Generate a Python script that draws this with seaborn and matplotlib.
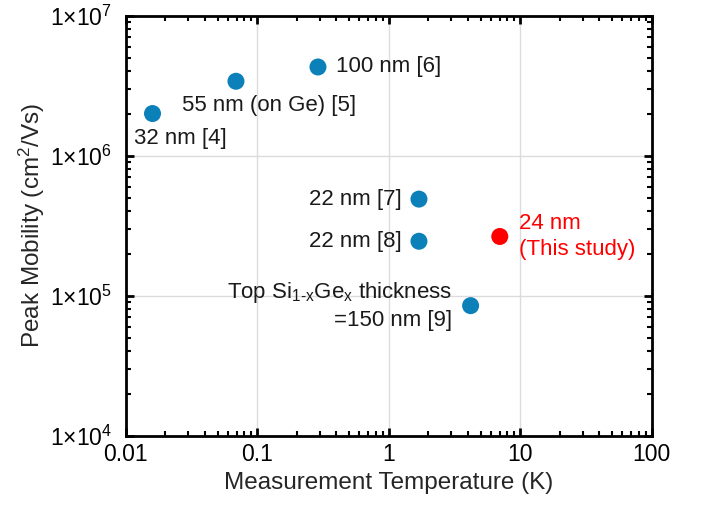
import matplotlib
matplotlib.use("Agg")
import matplotlib.pyplot as plt
import seaborn as sns
import pandas as pd
from matplotlib.ticker import LogLocator, NullFormatter, FixedLocator

# Data
labels = ["32 nm [4]", "55 nm (on Ge) [5]", "100 nm [6]", "22 nm [7]", "22 nm [8]",
          "Top Si$_{1\\text{-}x}$Ge$_x$ thickness\n=150 nm [9]", "24 nm\n(This study)"]
temperature = [0.016, 0.069, 0.29, 1.7, 1.7, 4.2, 7.0]
mobility = [2.0e6, 3.4e6, 4.3e6, 4.9e5, 2.45e5, 8.5e4, 2.65e5]
group = ["ref", "ref", "ref", "ref", "ref", "ref", "this"]
xticks = [0.01, 0.1, 1, 10, 100]
xticklabels = ["0.01", "0.1", "1", "10", "100"]
yticks = [1e4, 1e5, 1e6, 1e7]
yticklabels = ["1×10$^{4}$", "1×10$^{5}$", "1×10$^{6}$", "1×10$^{7}$"]

df = pd.DataFrame({"T": temperature, "mu": mobility, "g": group, "label": labels})

sns.set_theme(style="white")
plt.rcParams["font.family"] = ["Liberation Sans", "DejaVu Sans"]
plt.rcParams["mathtext.fontset"] = "custom"
plt.rcParams["mathtext.rm"] = "Liberation Sans"
plt.rcParams["mathtext.it"] = "Liberation Sans"
plt.rcParams["mathtext.bf"] = "Liberation Sans:bold"

fig = plt.figure(figsize=(7.06, 5.05), dpi=100)
ax = fig.add_axes([0.178, 0.137, 0.745, 0.832])

palette = {"ref": "#0b80b9", "this": "#ff0000"}
sns.scatterplot(data=df, x="T", y="mu", hue="g", palette=palette, s=150,
                edgecolor="none", legend=False, ax=ax, zorder=3)

ax.set_xscale("log")
ax.set_yscale("log")
ax.set_xlim(0.01, 100)
ax.set_ylim(1e4, 1e7)

ax.xaxis.set_major_locator(FixedLocator(xticks))
ax.set_xticklabels(xticklabels)
ax.yaxis.set_major_locator(FixedLocator(yticks))
ax.set_yticklabels(yticklabels)
ax.xaxis.set_minor_locator(LogLocator(base=10, subs=range(2, 10)))
ax.yaxis.set_minor_locator(LogLocator(base=10, subs=range(2, 10)))
ax.xaxis.set_minor_formatter(NullFormatter())
ax.yaxis.set_minor_formatter(NullFormatter())

ax.grid(True, which="major", color="#dcdcdc", linewidth=1.0)
ax.set_axisbelow(True)
for sp in ax.spines.values():
    sp.set_visible(True)
    sp.set_linewidth(2.0)
    sp.set_color("black")

ax.tick_params(which="both", direction="in", top=True, right=True,
               bottom=True, left=True, color="black")
ax.tick_params(which="major", length=6, width=2, labelsize=16.5, colors="black")
ax.tick_params(which="minor", length=3.5, width=1.5)
ax.tick_params(axis="x", which="major", pad=5)
ax.tick_params(axis="y", which="major", pad=10)

ax.set_xlabel("Measurement Temperature (K)", fontsize=17.5)
ax.set_ylabel("Peak Mobility (cm$^2$/Vs)", fontsize=17.5)
ax.xaxis.set_label_coords(0.5, -0.085)
ax.yaxis.set_label_coords(-0.15, 0.5)

# annotations (offset in pixels)
offsets = [(-19, -25, "left", "center", "left"),
           (-54, -24, "left", "center", "left"),
           (18, 0, "left", "center", "left"),
           (-17, 0, "right", "center", "right"),
           (-17, 0, "right", "center", "right"),
           (-18, 0, "right", "center", "right"),
           (19, 0, "left", "center", "left")]
for (lab, x, y, g, (dx, dy, ha, va, ma)) in zip(labels, temperature, mobility, group, offsets):
    ax.annotate(lab, (x, y), xytext=(dx, dy), textcoords="offset pixels",
                ha=ha, va=va, multialignment=ma, fontsize=16,
                color=palette[g] if g == "this" else "#1a1a1a",
                linespacing=1.3)

fig.savefig("out.png", dpi=100)
